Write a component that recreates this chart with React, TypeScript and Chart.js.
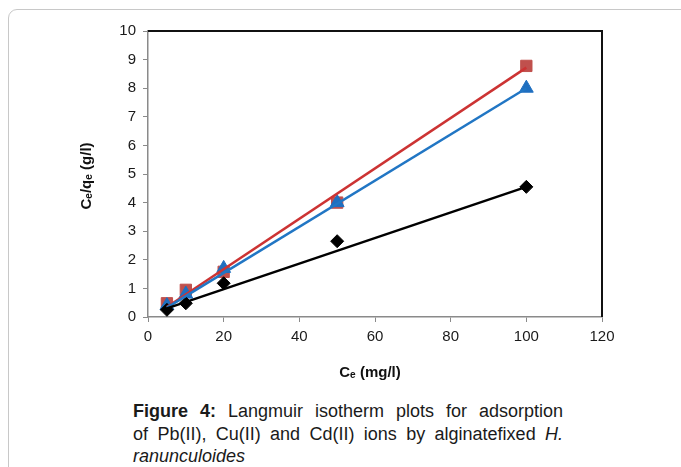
import React, { useEffect, useRef } from "react";
import { Chart, registerables } from "chart.js";

Chart.register(...registerables);

// Ce values (mg/l)
const ceValues = [5, 10, 20, 50, 100];
// Ce/qe values (g/l) per ion
const pbValues = [0.25, 0.48, 1.18, 2.65, 4.55]; // black diamonds
const cuValues = [0.48, 0.95, 1.58, 4.0, 8.78]; // red squares
const cdValues = [0.4, 0.8, 1.7, 4.0, 8.0]; // blue triangles

// Linear trendline end points
const trendX = [5, 100];
const pbTrend = [0.3, 4.55];
const cuTrend = [0.35, 8.72];
const cdTrend = [0.33, 8.0];

const xTicks = [0, 20, 40, 60, 80, 100, 120];
const yTicks = [0, 1, 2, 3, 4, 5, 6, 7, 8, 9, 10];

const FONT = "'Liberation Sans', Arial, Helvetica, sans-serif";

const toPts = (xs: number[], ys: number[]) => xs.map((x, i) => ({ x, y: ys[i] }));

const frame = {
  id: "frame",
  afterDatasetsDraw(chart: any) {
    const { ctx, chartArea } = chart;
    ctx.save();
    ctx.strokeStyle = "#111";
    ctx.lineWidth = 2;
    ctx.beginPath();
    ctx.moveTo(chartArea.left, chartArea.top);
    ctx.lineTo(chartArea.right, chartArea.top);
    ctx.lineTo(chartArea.right, chartArea.bottom);
    ctx.stroke();
    ctx.restore();
  },
  afterDraw(chart: any) {
    const { ctx } = chart;
    ctx.save();
    ctx.fillStyle = "#111";
    ctx.font = `bold 15px ${FONT}`;
    ctx.textAlign = "center";
    ctx.textBaseline = "middle";
    ctx.fillText("Cₑ (mg/l)", 370, 373);
    ctx.translate(87, 176);
    ctx.rotate(-Math.PI / 2);
    ctx.fillText("Cₑ/qₑ (g/l)", 0, 0);
    ctx.restore();
  },
};

export default function App() {
  const ref = useRef<HTMLCanvasElement>(null);
  useEffect(() => {
    if (!ref.current) return;
    const chart = new Chart(ref.current, {
      type: "scatter",
      data: {
        datasets: [
          {
            data: toPts(trendX, pbTrend),
            showLine: true,
            borderColor: "#000",
            borderWidth: 2.5,
            pointRadius: 0,
          },
          {
            data: toPts(trendX, cdTrend),
            showLine: true,
            borderColor: "#2176c4",
            borderWidth: 2.5,
            pointRadius: 0,
          },
          {
            data: toPts(trendX, cuTrend),
            showLine: true,
            borderColor: "#cc3333",
            borderWidth: 2.5,
            pointRadius: 0,
          },
          {
            data: toPts(ceValues, pbValues),
            pointStyle: "rectRot",
            pointRadius: 6.5,
            backgroundColor: "#000",
            borderColor: "#000",
            borderWidth: 1,
          },
          {
            data: toPts(ceValues, cdValues),
            pointStyle: "triangle",
            pointRadius: 8,
            backgroundColor: "#1f6fc0",
            borderColor: "#1f6fc0",
            borderWidth: 1,
          },
          {
            data: toPts(ceValues, cuValues),
            pointStyle: "rect",
            pointRadius: 8,
            backgroundColor: "#c0504d",
            borderColor: "#c0504d",
            borderWidth: 1,
          },
        ],
      },
      options: {
        responsive: false,
        animation: false,
        events: [],
        layout: { padding: { left: 0, top: 31, right: 79, bottom: 0 } },
        plugins: { legend: { display: false }, tooltip: { enabled: false } },
        scales: {
          x: {
            type: "linear",
            min: 0,
            max: 120,
            afterFit: (s: any) => {
              s.height = 83;
            },
            afterBuildTicks: (s: any) => {
              s.ticks = xTicks.map((v) => ({ value: v }));
            },
            grid: {
              display: true,
              drawOnChartArea: false,
              drawTicks: true,
              tickLength: 5,
              color: "#8a8a8a",
              lineWidth: 1,
            },
            border: { color: "#8a8a8a", width: 1.5 },
            ticks: { color: "#1a1a1a", font: { family: FONT, size: 15 }, padding: 6, maxRotation: 0 },
          },
          y: {
            type: "linear",
            min: 0,
            max: 10,
            afterFit: (s: any) => {
              s.width = 148;
            },
            afterBuildTicks: (s: any) => {
              s.ticks = yTicks.map((v) => ({ value: v }));
            },
            grid: {
              display: true,
              drawOnChartArea: false,
              drawTicks: true,
              tickLength: 5,
              color: "#8a8a8a",
              lineWidth: 1,
            },
            border: { color: "#8a8a8a", width: 1.5 },
            ticks: { color: "#1a1a1a", font: { family: FONT, size: 15 }, padding: 7 },
          },
        },
      },
      plugins: [frame],
    } as any);
    return () => chart.destroy();
  }, []);

  return (
    <div
      style={{
        position: "absolute",
        left: 0,
        top: 0,
        width: 681,
        height: 467,
        overflow: "hidden",
        background: "#fff",
      }}
    >
      <div
        style={{
          position: "absolute",
          left: 8,
          top: 9,
          width: 720,
          height: 520,
          border: "1px solid #c8c8c8",
          borderRadius: 9,
        }}
      />
      <canvas
        ref={ref}
        width={681}
        height={400}
        style={{ position: "absolute", left: 0, top: 0, width: 681, height: 400 }}
      />
      <div
        style={{
          position: "absolute",
          left: 133,
          top: 400,
          width: 430,
          fontFamily: FONT,
          fontSize: 18,
          lineHeight: "22.5px",
          color: "#1a1a1a",
          textAlign: "justify",
        }}
      >
        <b>Figure 4:</b> Langmuir isotherm plots for adsorption of{"\u00a0"}Pb(II), Cu(II) and Cd(II) ions by
        alginatefixed <i>H. ranunculoides</i>
      </div>
    </div>
  );
}
